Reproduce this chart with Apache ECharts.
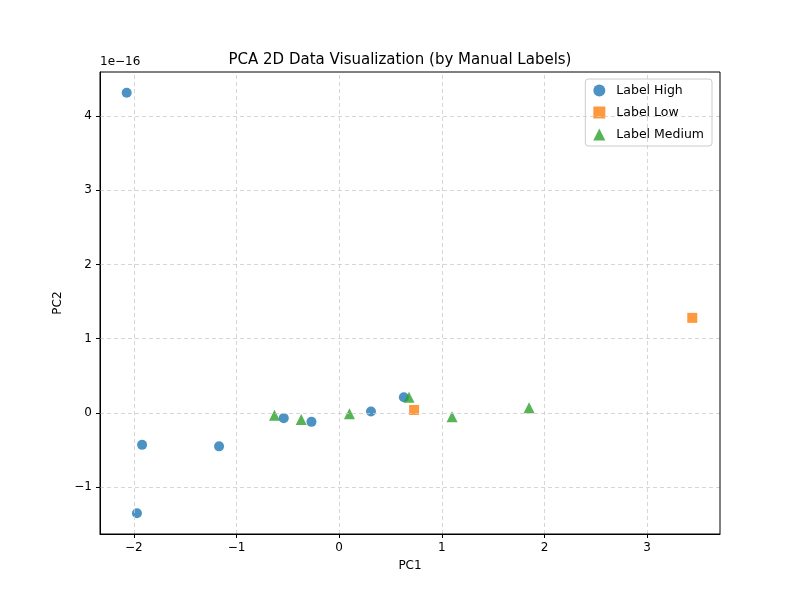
<!DOCTYPE html>
<html><head><meta charset="utf-8">
<script src="https://cdn.jsdelivr.net/npm/echarts@6/dist/echarts.min.js"></script>
<style>html,body{margin:0;background:#fff}#c{width:800px;height:600px}</style>
</head><body><div id="c"></div>
<script>
const highPts = [[-2.07,4.31],[-1.92,-0.43],[-1.97,-1.35],[-1.17,-0.45],[-0.54,-0.07],[-0.27,-0.12],[0.31,0.02],[0.63,0.21]];
const lowPts = [[0.73,0.04],[3.44,1.28]];
const mediumPts = [[-0.63,-0.03],[-0.37,-0.09],[0.10,-0.01],[0.68,0.21],[1.10,-0.05],[1.85,0.07]];
const xTicks = [-2,-1,0,1,2,3];
const yTicks = [-1,0,1,2,3,4];
const fmt = v => String(v).replace('-', '\u2212');
const grid = {lineStyle:{type:[4,3],color:'#cccccc',width:0.8}};
const chart = echarts.init(document.getElementById('c'));
const axisCommon = {
  axisLine:{onZero:false,show:true,lineStyle:{color:'#000'}},
  axisTick:{show:true,inside:false,length:4,lineStyle:{color:'#000'}},
  axisLabel:{color:'#000',fontSize:12,fontFamily:'DejaVu Sans',formatter:fmt},
  splitLine:{show:false},
  nameLocation:'middle',nameTextStyle:{color:'#000',fontSize:12,fontFamily:'DejaVu Sans'}
};
chart.setOption({
  animation:false,
  title:{text:'PCA 2D Data Visualization (by Manual Labels)',left:'center',top:48,textStyle:{fontSize:15,fontWeight:'normal',color:'#000',fontFamily:'DejaVu Sans'}},
  graphic:[{type:'text',left:100,top:56,style:{text:'1e\u221216',fontSize:12,fill:'#000',fontFamily:'DejaVu Sans'}},
    {type:'rect',shape:{x:100,y:72,width:620,height:462},style:{fill:'none',stroke:'#000',lineWidth:1},z:100}],
  grid:{left:100,right:80,top:72,bottom:66},
  legend:{orient:'vertical',right:88,top:79,itemGap:9,itemWidth:12,itemHeight:12,
    backgroundColor:'rgba(255,255,255,0.8)',borderColor:'#ccc',borderWidth:1,borderRadius:3,padding:[5,8,5,8],
    textStyle:{fontSize:12.5,color:'#000',fontFamily:'DejaVu Sans',padding:[0,0,0,6]},
    data:['Label High','Label Low','Label Medium']},
  xAxis:Object.assign({type:'value',min:-2.33,max:3.71,name:'PC1',nameGap:26,
    axisTick:Object.assign({},axisCommon.axisTick,{customValues:xTicks}),
    axisLabel:Object.assign({},axisCommon.axisLabel,{customValues:xTicks})},{
    axisLine:axisCommon.axisLine,splitLine:axisCommon.splitLine,nameLocation:'middle',nameTextStyle:axisCommon.nameTextStyle}),
  yAxis:{type:'value',min:-1.63,max:4.59,name:'PC2',nameGap:36,
    axisLine:axisCommon.axisLine,splitLine:axisCommon.splitLine,nameLocation:'middle',nameTextStyle:axisCommon.nameTextStyle,
    axisTick:Object.assign({},axisCommon.axisTick,{customValues:yTicks}),
    axisLabel:Object.assign({},axisCommon.axisLabel,{customValues:yTicks})},
  series:[
    {type:'scatter',name:'grid',data:[],silent:true,
      markLine:{silent:true,symbol:'none',label:{show:false},lineStyle:grid.lineStyle,
        data:xTicks.map(v=>({xAxis:v})).concat(yTicks.map(v=>({yAxis:v})))}},
    {type:'scatter',name:'Label High',data:highPts,symbol:'circle',symbolSize:10,itemStyle:{color:'#1f77b4',opacity:0.8}},
    {type:'scatter',name:'Label Low',data:lowPts,symbol:'rect',symbolSize:10,itemStyle:{color:'#ff7f0e',opacity:0.8}},
    {type:'scatter',name:'Label Medium',data:mediumPts,symbol:'triangle',symbolSize:11,itemStyle:{color:'#2ca02c',opacity:0.8}}
  ]
});
</script></body></html>
